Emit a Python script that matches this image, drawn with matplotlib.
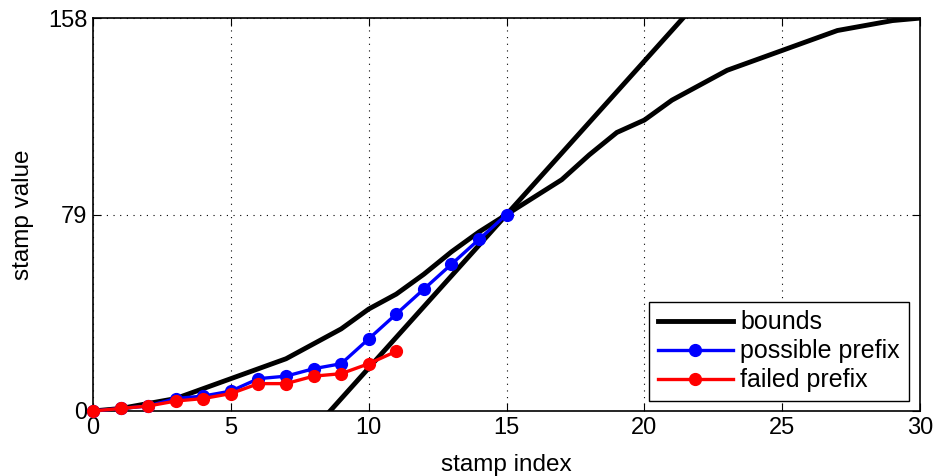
import matplotlib
matplotlib.use('Agg')
from matplotlib import pyplot as plt

plt.rcParams['font.family'] = ['Liberation Sans', 'DejaVu Sans']

# upper bound curve
bound_x = list(range(0, 31))
bound_y = [0, 1, 3, 5, 9, 13, 17, 21, 27, 33, 41, 47, 55, 64, 72, 79,
           86, 93, 103, 112, 117, 125, 131, 137, 141, 145, 149, 153, 155, 157, 158]
# lower bound (straight line)
line_x = [8.6, 21.4]
line_y = [0, 158]

possible_x = list(range(0, 16))
possible_y = [0, 1, 2, 5, 6, 8, 13, 14, 17, 19, 29, 39, 49, 59, 69, 79]

failed_x = list(range(0, 12))
failed_y = [0, 1, 2, 4, 5, 7, 11, 11, 14, 15, 19, 24]

fig = plt.figure(figsize=(9.36, 4.76), dpi=100)
ax = fig.add_axes([0.0994, 0.1366, 0.8836, 0.8254])

ax.plot(bound_x, bound_y, color='k', lw=3.5, label='bounds', solid_joinstyle='miter')
ax.plot(line_x, line_y, color='k', lw=3.5)
ax.plot(possible_x, possible_y, color='#0000ff', lw=2.4, marker='o', ms=8.5,
        label='possible prefix', clip_on=False, zorder=3)
ax.plot(failed_x, failed_y, color='#ff0000', lw=2.4, marker='o', ms=8.5,
        label='failed prefix', clip_on=False, zorder=4)

ax.set_xlim(0, 30)
ax.set_ylim(0, 158)
ax.set_xticks([0, 5, 10, 15, 20, 25, 30])
ax.set_yticks([0, 79, 158])
ax.tick_params(direction='in', top=True, right=True, labelsize=17, length=6, pad=4)
ax.grid(True, color='k', linestyle=(0, (1, 5)), lw=0.8)
for s in ax.spines.values():
    s.set_linewidth(1.2)
ax.set_xlabel('stamp index', fontsize=17.5, labelpad=11)
ax.set_ylabel('stamp value', fontsize=17.5, labelpad=10)

leg = ax.legend(loc='lower right', bbox_to_anchor=(0.986, 0.025), fontsize=18,
                fancybox=False, edgecolor='k', framealpha=1, handlelength=3.0,
                borderpad=0.35, labelspacing=0.2, handletextpad=0.3, borderaxespad=0)
leg.get_frame().set_linewidth(1.0)

plt.savefig('out.png', dpi=100)
